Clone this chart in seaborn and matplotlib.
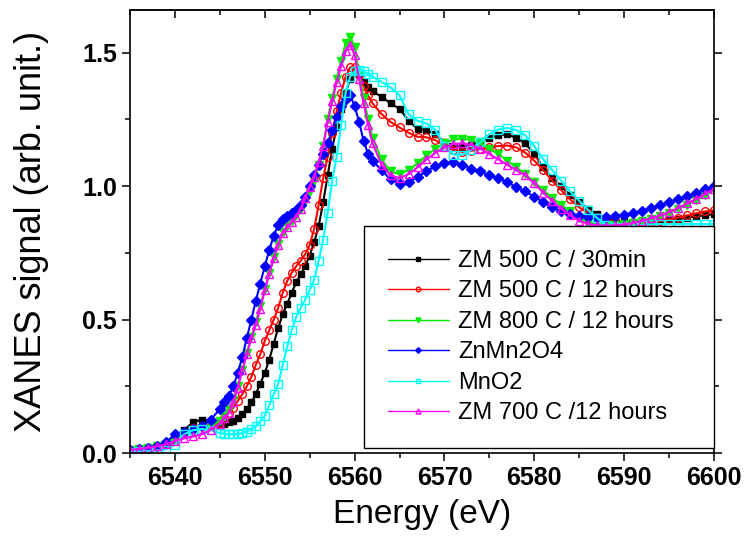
import matplotlib
matplotlib.use("Agg")
import matplotlib.pyplot as plt
import seaborn as sns
from matplotlib.ticker import MultipleLocator, FormatStrFormatter

# energy grid (eV): 1 eV pre-edge, 0.5 eV over the edge, 1 eV after
energy = [6535, 6536, 6537, 6538, 6539, 6540, 6541, 6542, 6543, 6544, 6545,
          6545.5, 6546, 6546.5, 6547, 6547.5, 6548, 6548.5, 6549, 6549.5, 6550,
          6550.5, 6551, 6551.5, 6552, 6552.5, 6553, 6553.5, 6554, 6554.5, 6555,
          6555.5, 6556, 6556.5, 6557, 6557.5, 6558, 6558.5, 6559, 6559.5, 6560,
          6560.5, 6561, 6561.5, 6562,
          6563, 6564, 6565, 6566, 6567, 6568, 6569, 6570, 6571, 6572,
          6573, 6574, 6575, 6576, 6577, 6578, 6579, 6580, 6581, 6582,
          6583, 6584, 6585, 6586, 6587, 6588, 6589, 6590, 6591, 6592,
          6593, 6594, 6595, 6596, 6597, 6598, 6599, 6600]

zm500_30min = [0.012, 0.015, 0.02, 0.026, 0.035, 0.05, 0.085, 0.115, 0.125, 0.12, 0.11,
               0.11, 0.115, 0.12, 0.13, 0.145, 0.165, 0.19, 0.22, 0.26, 0.3,
               0.35, 0.41, 0.47, 0.52, 0.56, 0.6, 0.64, 0.67, 0.7, 0.74,
               0.79, 0.85, 0.94, 1.04, 1.14, 1.22, 1.29, 1.35, 1.4, 1.43,
               1.42, 1.39, 1.37, 1.355,
               1.335, 1.31, 1.29, 1.245, 1.215, 1.21, 1.195, 1.165, 1.15, 1.148,
               1.155, 1.168, 1.18, 1.19, 1.195, 1.18, 1.16, 1.12, 1.07, 1.03,
               1.0, 0.965, 0.94, 0.915, 0.895, 0.88, 0.872, 0.868, 0.867, 0.867,
               0.868, 0.87, 0.873, 0.877, 0.882, 0.887, 0.891, 0.895]

zm500_12h = [0.012, 0.015, 0.02, 0.026, 0.035, 0.05, 0.075, 0.092, 0.1, 0.1, 0.112,
             0.13, 0.15, 0.17, 0.195, 0.22, 0.25, 0.285, 0.33, 0.37, 0.42,
             0.46, 0.5, 0.545, 0.6, 0.645, 0.675, 0.7, 0.72, 0.745, 0.78,
             0.84, 0.93, 1.03, 1.11, 1.2, 1.28, 1.35, 1.41, 1.445, 1.445,
             1.415, 1.375, 1.34, 1.31,
             1.27, 1.24, 1.22, 1.2, 1.185, 1.183, 1.172, 1.15, 1.135, 1.128,
             1.132, 1.14, 1.147, 1.15, 1.152, 1.145, 1.125, 1.095, 1.06, 1.02,
             0.985, 0.95, 0.92, 0.9, 0.885, 0.872, 0.865, 0.86, 0.86, 0.862,
             0.865, 0.868, 0.875, 0.882, 0.89, 0.898, 0.905, 0.91]

zm800_12h = [0.012, 0.015, 0.02, 0.026, 0.035, 0.055, 0.07, 0.08, 0.09, 0.1, 0.12,
             0.14, 0.165, 0.2, 0.25, 0.31, 0.375, 0.435, 0.49, 0.55, 0.615,
             0.675, 0.735, 0.785, 0.83, 0.85, 0.87, 0.89, 0.915, 0.945, 0.98,
             1.02, 1.08, 1.15, 1.25, 1.33, 1.4, 1.47, 1.535, 1.56, 1.52,
             1.42, 1.33, 1.25, 1.18,
             1.1, 1.055, 1.045, 1.06, 1.085, 1.115, 1.14, 1.16, 1.175, 1.178,
             1.172, 1.16, 1.14, 1.12, 1.095, 1.07, 1.045, 1.015, 0.985, 0.955,
             0.93, 0.905, 0.88, 0.865, 0.857, 0.855, 0.855, 0.857, 0.862, 0.87,
             0.878, 0.887, 0.9, 0.915, 0.93, 0.948, 0.965, 0.985]

znmn2o4 = [0.012, 0.015, 0.02, 0.026, 0.04, 0.07, 0.08, 0.09, 0.1, 0.125, 0.165,
           0.19, 0.215, 0.25, 0.3, 0.36, 0.43, 0.5, 0.57, 0.635, 0.7,
           0.76, 0.815, 0.855, 0.875, 0.888, 0.9, 0.912, 0.93, 0.96, 1.0,
           1.04, 1.08, 1.12, 1.16, 1.21, 1.26, 1.3, 1.325, 1.34, 1.3,
           1.24, 1.17, 1.12, 1.095,
           1.06, 1.025, 1.008, 1.015, 1.035, 1.055, 1.075, 1.085, 1.09, 1.08,
           1.065, 1.055, 1.04, 1.03, 1.015, 0.995, 0.98, 0.96, 0.94, 0.92,
           0.905, 0.895, 0.888, 0.884, 0.882, 0.883, 0.887, 0.893, 0.9, 0.908,
           0.918, 0.928, 0.94, 0.952, 0.963, 0.975, 0.988, 1.0]

mno2 = [0.005, 0.006, 0.008, 0.01, 0.013, 0.03, 0.07, 0.085, 0.09, 0.085, 0.075,
        0.072, 0.07, 0.07, 0.07, 0.075, 0.08, 0.09, 0.1, 0.12, 0.14,
        0.18, 0.22, 0.26, 0.33, 0.4, 0.46, 0.51, 0.545, 0.575, 0.61,
        0.65, 0.72, 0.8, 0.9, 1.02, 1.11, 1.23, 1.35, 1.41, 1.43,
        1.437, 1.43, 1.42, 1.41,
        1.39, 1.37, 1.34, 1.27, 1.245, 1.235, 1.21, 1.15, 1.118, 1.118,
        1.135, 1.165, 1.195, 1.212, 1.218, 1.21, 1.19, 1.15, 1.1, 1.06,
        1.02, 0.98, 0.945, 0.91, 0.88, 0.855, 0.845, 0.848, 0.852, 0.855,
        0.857, 0.858, 0.858, 0.858, 0.858, 0.858, 0.858, 0.858]

zm700_12h = [0.012, 0.015, 0.02, 0.025, 0.032, 0.045, 0.055, 0.062, 0.07, 0.088, 0.11,
             0.13, 0.15, 0.19, 0.245, 0.31, 0.37, 0.43, 0.48, 0.54, 0.61,
             0.67, 0.73, 0.78, 0.825, 0.845, 0.865, 0.885, 0.915, 0.955, 0.995,
             1.035, 1.09, 1.15, 1.24, 1.32, 1.39, 1.45, 1.505, 1.53, 1.49,
             1.4, 1.31, 1.23, 1.16,
             1.08, 1.04, 1.03, 1.045, 1.07, 1.1, 1.125, 1.145, 1.158, 1.16,
             1.155, 1.14, 1.12, 1.1, 1.08, 1.06, 1.04, 1.01, 0.975, 0.945,
             0.915, 0.89, 0.87, 0.858, 0.853, 0.852, 0.853, 0.856, 0.862, 0.87,
             0.88, 0.89, 0.903, 0.918, 0.935, 0.952, 0.97, 0.99]

labels = ["ZM 500 C / 30min", "ZM 500 C / 12 hours", "ZM 800 C / 12 hours",
          "ZnMn2O4", "MnO2", "ZM 700 C /12 hours"]

# label, values, colour, marker, face, size
series = [
    (labels[0], zm500_30min, "#000000", "s", "#000000", 4.8),
    (labels[1], zm500_12h, "#ff0000", "o", "none", 5.5),
    (labels[2], zm800_12h, "#00ee00", "v", "#00ee00", 6),
    (labels[3], znmn2o4, "#0000ff", "D", "#0000ff", 4.8),
    (labels[4], mno2, "#00ffff", "s", "none", 5.2),
    (labels[5], zm700_12h, "#ff00ff", "^", "none", 6),
]

sns.set_theme(style="ticks")
plt.rcParams['font.family'] = ['Liberation Sans', 'DejaVu Sans']
plt.rcParams['text.color'] = 'black'
plt.rcParams['axes.labelcolor'] = 'black'
plt.rcParams['xtick.color'] = 'black'
plt.rcParams['ytick.color'] = 'black'

fig = plt.figure(figsize=(7.45, 5.37), dpi=100)
ax = fig.add_axes([0.1745, 0.1564, 0.7839, 0.8250])

for name, vals, col, mk, face, size in series:
    sns.lineplot(x=energy, y=vals, ax=ax, color=col, lw=1.5, marker=mk,
                 markersize=size, markerfacecolor=face, markeredgecolor=col,
                 markeredgewidth=1, label=name, errorbar=None, sort=False)

ax.set_xlim(6535, 6600)
ax.set_ylim(0, 1.66)
ax.xaxis.set_major_locator(MultipleLocator(10))
ax.xaxis.set_minor_locator(MultipleLocator(5))
ax.yaxis.set_major_locator(MultipleLocator(0.5))
ax.yaxis.set_minor_locator(MultipleLocator(0.25))
ax.yaxis.set_major_formatter(FormatStrFormatter("%.1f"))

ax.tick_params(axis="both", which="major", direction="out", length=6, width=1.1,
               labelsize=18, color="black", labelcolor="black")
ax.tick_params(axis="both", which="minor", direction="out", length=3.5, width=1.1)
ax.tick_params(axis="y", which="both", right=True, labelright=False)
for lab in ax.get_xticklabels() + ax.get_yticklabels():
    lab.set_fontweight("bold")

top = ax.secondary_xaxis("top")
top.xaxis.set_major_locator(MultipleLocator(10))
top.xaxis.set_minor_locator(MultipleLocator(5))
top.tick_params(which="major", direction="in", length=6, width=1.1, labeltop=False)
top.tick_params(which="minor", direction="in", length=3.5, width=1.1)
top.spines["top"].set_linewidth(1.2)

for sp in ax.spines.values():
    sp.set_linewidth(1.2)
    sp.set_color("black")

ax.set_xlabel("Energy (eV)", fontsize=24, labelpad=6)
ax.set_ylabel("XANES signal (arb. unit.)", fontsize=26, labelpad=24)

leg = ax.legend(loc="lower left", bbox_to_anchor=(0.4007, 0.0113, 0.5993, 0.5),
                mode="expand", borderaxespad=0, fontsize=17, frameon=True,
                fancybox=False, edgecolor="black", framealpha=1, numpoints=1,
                markerscale=0.6, handlelength=2.6, handletextpad=0.38,
                labelspacing=0.36, borderpad=1.0)
leg.get_frame().set_linewidth(1)
for line in leg.get_lines():
    line.set_linewidth(1)

fig.savefig("out.png", dpi=100)
